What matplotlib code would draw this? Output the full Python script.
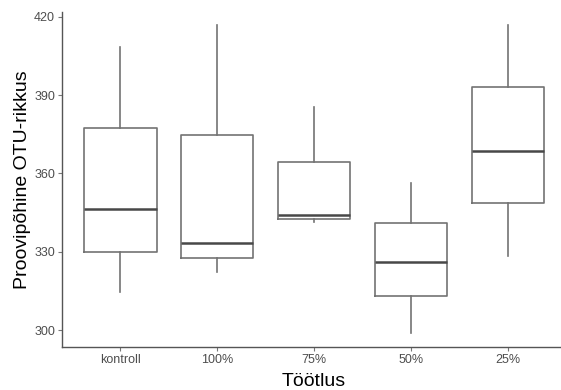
import matplotlib
matplotlib.use("Agg")
import matplotlib.pyplot as plt

plt.rcParams['font.family'] = ['Liberation Sans', 'DejaVu Sans']

# treatment groups and box statistics for OTU richness per sample
groups = ["kontroll", "100%", "75%", "50%", "25%"]
whisker_low = [314.7, 322.3, 341.5, 298.7, 328.4]
q1 = [330.0, 327.5, 342.4, 313.0, 348.6]
median = [346.3, 333.2, 344.0, 326.2, 368.7]
q3 = [377.4, 374.8, 364.3, 340.9, 393.0]
whisker_high = [408.5, 416.9, 385.5, 356.5, 416.9]
yticks = [300, 330, 360, 390, 420]

stats = []
for g, lo, a, m, b, hi in zip(groups, whisker_low, q1, median, q3, whisker_high):
    stats.append({"label": g, "whislo": lo, "q1": a, "med": m, "q3": b, "whishi": hi, "fliers": []})

fig = plt.figure(figsize=(5.61, 3.9), dpi=100)
ax = fig.add_axes([62 / 561, 43 / 390, 504 / 561, 335 / 390])

line_col = "#737373"
ax.bxp(stats, positions=range(1, 6), widths=0.75, showcaps=False,
       boxprops=dict(color=line_col, linewidth=1.2),
       whiskerprops=dict(color=line_col, linewidth=1.2),
       medianprops=dict(color="#484848", linewidth=1.8))

ax.set_xlim(0.4, 5.6)
ax.set_ylim(293.5, 421.9)
ax.set_yticks(yticks)

for s in ["top", "right"]:
    ax.spines[s].set_visible(False)
for s in ["left", "bottom"]:
    ax.spines[s].set_color("#555555")
    ax.spines[s].set_linewidth(1.0)

ax.tick_params(axis="both", length=3, width=0.8, color="#777777", labelsize=9,
               labelcolor="#4d4d4d", pad=2)
ax.set_xlabel("Töötlus", fontsize=14, labelpad=5)
ax.set_ylabel("Proovipõhine OTU-rikkus", fontsize=14, labelpad=2)

fig.savefig("out.png", dpi=100)
